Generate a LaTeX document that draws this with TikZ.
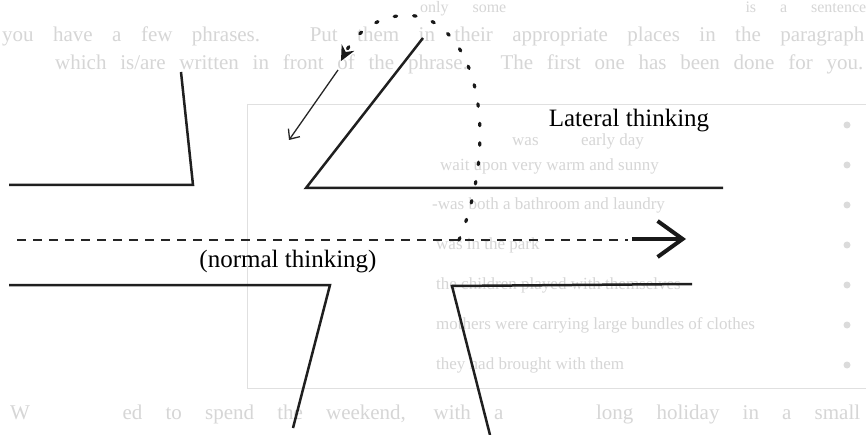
\documentclass[tikz,border=0pt]{standalone}
\usepackage{fontspec}
\setmainfont{Liberation Serif}
\usetikzlibrary{arrows.meta}
\begin{document}
\begin{tikzpicture}[x=1pt,y=-1pt,
  outline/.style={line width=2.5pt,line join=miter,draw=black!88},
  normalpath/.style={line width=1.4pt,draw=black!85,dash pattern=on 9pt off 7pt},
  lateralpath/.style={line width=3.2pt,draw=black!90,line cap=round,dash pattern=on 2.5pt off 17pt,
     -{Stealth[length=15pt,width=14pt]}},
  thinarrow/.style={line width=1.3pt,draw=black!85,-{Straight Barb[length=8pt,width=14pt]}},
  label/.style={inner sep=0pt,text=black},
  faint/.style={inner sep=0pt,anchor=west,text=black!16,font=\fontsize{17}{17}\selectfont},
  faintwide/.style={faint,font=\fontsize{21}{21}\selectfont},
  faintbullet/.style={circle,fill=black!14,inner sep=0pt,minimum size=7pt}]
\useasboundingbox (0,0) rectangle (866,435);
\fill[white] (0,0) rectangle (866,435);
% faint show-through of the page behind
\draw[black!12,line width=0.8pt] (247,104) -- (870,104) (247,104) -- (247,388) -- (870,388);
\node[faint,font=\fontsize{16}{16}\selectfont] (f0) at (420,9) {\makebox[446pt][s]{only some \ \ \ \ \ \ \ \ \ is a sentence}};
\node[faintwide] (f1) at (2,36) {\makebox[862pt][s]{you have a few phrases. Put them in their appropriate places in the paragraph}};
\node[faintwide] (f2) at (55,64) {\makebox[808pt][s]{which is/are written in front of the phrase. The first one has been done for you.}};
\node[faint] (f3) at (512,141) {was \ \ \ \ \ \ \ \ \ early day};
\node[faint] (f4) at (440,166) {wait upon very warm and sunny};
\node[faint] (f5) at (432,205) {-was both a bathroom and laundry};
\node[faint] (f6) at (436,245) {was in the park};
\node[faint] (f7) at (436,285) {the children played with themselves};
\node[faint] (f8) at (436,325) {mothers were carrying large bundles of clothes};
\node[faint] (f9) at (436,365) {they had brought with them};
\node[faintwide] (f10) at (10,414) {\makebox[850pt][s]{W \ \ \ ed to spend the weekend, with a \ \ \ long holiday in a small}};
\foreach \yy in {125,165,205,245,285,325,365} \node[faintbullet] at (847,\yy) {};
% upper-left bracket
\coordinate (a1) at (181,72);
\coordinate (a2) at (193,185);
\coordinate (a3) at (9,185);
\draw[outline] (a1) -- (a2) -- (a3);
% upper-right wedge
\coordinate (b1) at (423,38);
\coordinate (b2) at (306,188);
\coordinate (b3) at (723,188);
\draw[outline] (b1) -- (b2) -- (b3);
% lower-left bracket
\coordinate (c1) at (9,285);
\coordinate (c2) at (330,285);
\coordinate (c3) at (293,428);
\draw[outline] (c1) -- (c2) -- (c3);
% lower-right bracket
\coordinate (d1) at (692,284);
\coordinate (d2) at (452,286);
\coordinate (d3) at (490,435);
\draw[outline] (d1) -- (d2) -- (d3);
% normal thinking (dashed) arrow
\coordinate (n0) at (17,240);
\coordinate (n1) at (628,240);
\coordinate (n2) at (632,239);
\coordinate (n3) at (686,239);
\draw[normalpath] (n0) -- (n1);
\draw[line width=4pt,draw=black!90,-{Straight Barb[length=25pt,width=36pt]}] (n2) -- (n3);
% lateral thinking (dotted) arrow
\coordinate (l0) at (459,240);
\coordinate (l1) at (433,22);
\coordinate (l2) at (341,61);
\draw[lateralpath] (l0) .. controls (492,160) and (488,55) .. (l1) .. controls (410,8) and (365,15) .. (l2);
% thin arrow
\coordinate (t0) at (338,70);
\coordinate (t1) at (289,140);
\draw[thinarrow] (t0) -- (t1);
% labels
\node[label,font=\fontsize{25}{25}\selectfont] (lat) at (629,121) {Lateral thinking};
\node[label,font=\fontsize{25}{25}\selectfont] (nor) at (288,262) {(normal thinking)};
\end{tikzpicture}
\end{document}
